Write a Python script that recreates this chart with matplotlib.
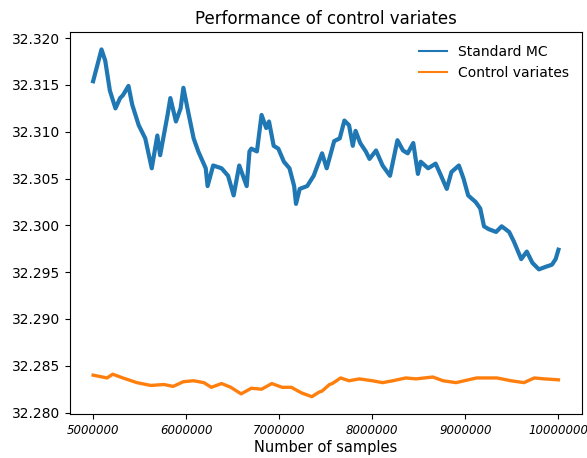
import matplotlib
matplotlib.use("Agg")
import matplotlib.pyplot as plt
from matplotlib.ticker import FormatStrFormatter

# Standard Monte Carlo estimate vs number of samples
mc_samples = [
    5.00e6, 5.09e6, 5.13e6, 5.18e6, 5.24e6, 5.29e6, 5.32e6, 5.38e6, 5.42e6, 5.49e6,
    5.56e6, 5.63e6, 5.69e6, 5.72e6, 5.80e6, 5.83e6, 5.89e6, 5.94e6, 5.97e6, 6.02e6,
    6.08e6, 6.13e6, 6.21e6, 6.23e6, 6.29e6, 6.38e6, 6.45e6, 6.51e6, 6.57e6, 6.65e6,
    6.68e6, 6.70e6, 6.76e6, 6.81e6, 6.86e6, 6.89e6, 6.94e6, 6.99e6, 7.05e6, 7.11e6,
    7.16e6, 7.18e6, 7.22e6, 7.30e6, 7.37e6, 7.46e6, 7.51e6, 7.59e6, 7.65e6, 7.70e6,
    7.75e6, 7.79e6, 7.82e6, 7.87e6, 7.93e6, 7.97e6, 8.04e6, 8.11e6, 8.19e6, 8.27e6,
    8.33e6, 8.38e6, 8.44e6, 8.49e6, 8.52e6, 8.60e6, 8.68e6, 8.73e6, 8.80e6, 8.85e6,
    8.93e6, 8.98e6, 9.03e6, 9.11e6, 9.16e6, 9.20e6, 9.25e6, 9.33e6, 9.39e6, 9.47e6,
    9.52e6, 9.60e6, 9.66e6, 9.72e6, 9.79e6, 9.87e6, 9.93e6, 9.97e6, 10.0e6,
]
mc_values = [
    32.3154, 32.3188, 32.3176, 32.3144, 32.3125, 32.3136, 32.3139, 32.3149, 32.3129, 32.3107,
    32.3093, 32.3061, 32.3096, 32.3075, 32.3118, 32.3136, 32.3111, 32.3125, 32.3147, 32.3122,
    32.3093, 32.3079, 32.3061, 32.3042, 32.3064, 32.3061, 32.3053, 32.3032, 32.3064, 32.3042,
    32.3079, 32.3082, 32.3079, 32.3118, 32.3104, 32.3111, 32.3085, 32.3082, 32.3068, 32.3061,
    32.3042, 32.3023, 32.3039, 32.3042, 32.3053, 32.3077, 32.3061, 32.3090, 32.3093, 32.3112,
    32.3107, 32.3085, 32.3101, 32.3088, 32.3079, 32.3071, 32.3080, 32.3064, 32.3053, 32.3091,
    32.3080, 32.3077, 32.3088, 32.3055, 32.3068, 32.3061, 32.3066, 32.3055, 32.3039, 32.3057,
    32.3064, 32.3050, 32.3032, 32.3025, 32.3018, 32.2999, 32.2996, 32.2993, 32.2999, 32.2993,
    32.2983, 32.2964, 32.2972, 32.2960, 32.2953, 32.2956, 32.2958, 32.2964, 32.2974,
]

# Control variates estimate
cv_samples = [
    5.00e6, 5.15e6, 5.21e6, 5.32e6, 5.47e6, 5.62e6, 5.76e6, 5.86e6, 5.97e6, 6.08e6,
    6.19e6, 6.27e6, 6.38e6, 6.48e6, 6.59e6, 6.70e6, 6.81e6, 6.92e6, 7.03e6, 7.13e6,
    7.24e6, 7.35e6, 7.43e6, 7.46e6, 7.54e6, 7.57e6, 7.66e6, 7.75e6, 7.86e6, 8.00e6,
    8.11e6, 8.22e6, 8.36e6, 8.47e6, 8.65e6, 8.76e6, 8.90e6, 9.12e6, 9.34e6, 9.49e6,
    9.63e6, 9.74e6, 9.85e6, 10.0e6,
]
cv_values = [
    32.2840, 32.2837, 32.2841, 32.2837, 32.2832, 32.2829, 32.2830, 32.2828, 32.2833, 32.2834,
    32.2832, 32.2827, 32.2831, 32.2827, 32.2820, 32.2826, 32.2825, 32.2831, 32.2827, 32.2827,
    32.2821, 32.2817, 32.2822, 32.2823, 32.2830, 32.2831, 32.2837, 32.2834, 32.2836, 32.2834,
    32.2832, 32.2834, 32.2837, 32.2836, 32.2838, 32.2834, 32.2832, 32.2837, 32.2837, 32.2834,
    32.2832, 32.2837, 32.2836, 32.2835,
]

x_ticks = [5000000, 6000000, 7000000, 8000000, 9000000, 10000000]

fig = plt.figure(figsize=(5.87, 4.58), dpi=100)
ax = fig.add_axes([0.119, 0.096, 0.872, 0.834])

ax.plot(mc_samples, mc_values, color="tab:blue", lw=3.0, label="Standard MC")
ax.plot(cv_samples, cv_values, color="tab:orange", lw=2.4, label="Control variates")

ax.set_title("Performance of control variates", fontsize=12)
ax.set_xlabel("Number of samples", fontsize=10.5, labelpad=2)
ax.set_xticks(x_ticks)
ax.set_xticklabels([str(t) for t in x_ticks], fontsize=8.5, style="italic")
ax.yaxis.set_major_formatter(FormatStrFormatter("%.3f"))
ax.tick_params(axis="y", labelsize=10)

leg = ax.legend(loc="upper right", frameon=False, fontsize=10)
for line in leg.get_lines():
    line.set_linewidth(1.5)

fig.savefig("out.png", dpi=100)
